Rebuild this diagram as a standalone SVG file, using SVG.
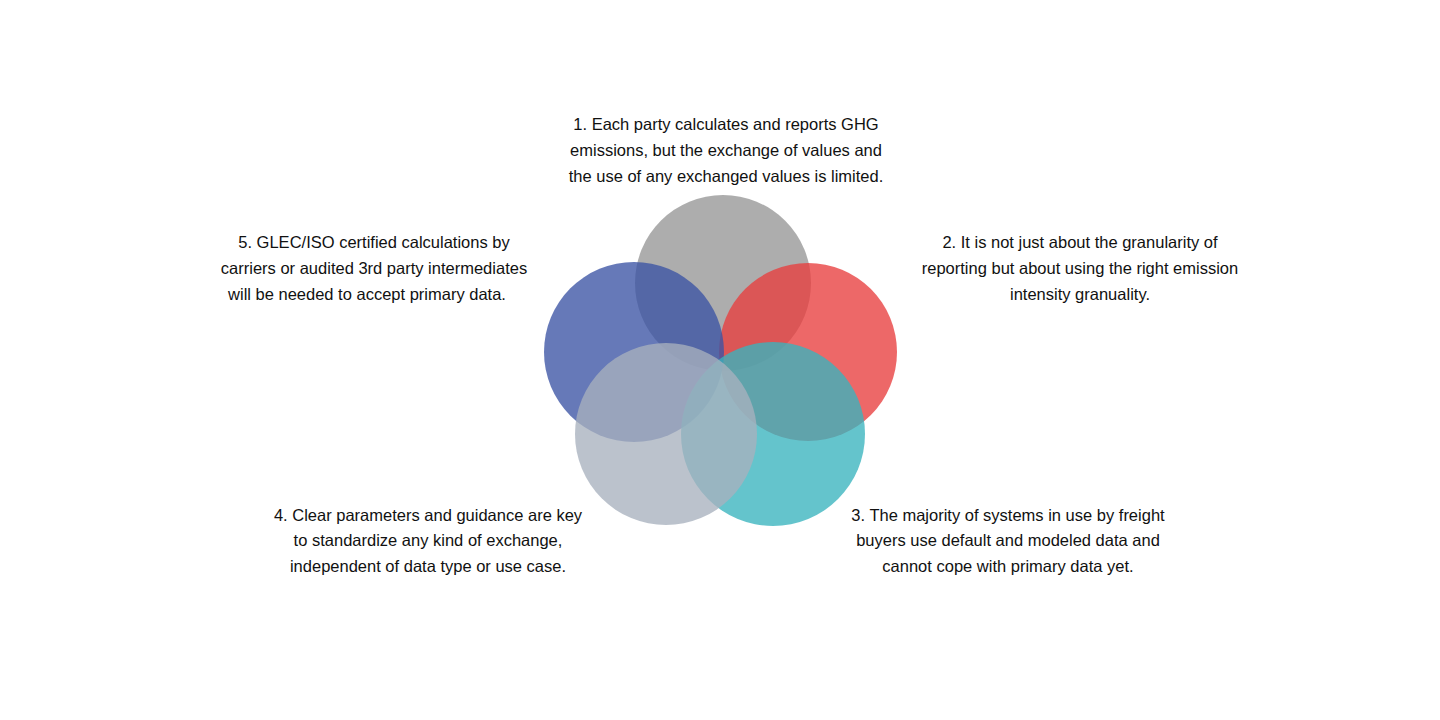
<svg xmlns="http://www.w3.org/2000/svg" width="1440" height="720" viewBox="0 0 1440 720">
<style>
text{font-family:"Liberation Sans",Arial,sans-serif;font-size:16.5px;fill:#111;text-anchor:middle}
circle{opacity:0.78}
</style>
<rect width="1440" height="720" fill="#fff"/>
<g id="connectors"></g>
<g id="node1"><circle cx="723" cy="283" r="88" fill="#969696"/>
<text x="726" y="130">1. Each party calculates and reports GHG</text>
<text x="726" y="156">emissions, but the exchange of values and</text>
<text x="726" y="182">the use of any exchanged values is limited.</text></g>
<g id="node2"><circle cx="808" cy="352" r="89" fill="#e83e3e"/>
<text x="1080" y="248">2. It is not just about the granularity of</text>
<text x="1080" y="274">reporting but about using the right emission</text>
<text x="1080" y="300">intensity granuality.</text></g>
<g id="node5"><circle cx="634" cy="352" r="90" fill="#3b53a4"/>
<text x="374" y="248">5. GLEC/ISO certified calculations by</text>
<text x="374" y="274">carriers or audited 3rd party intermediates</text>
<text x="367" y="300">will be needed to accept primary data.</text></g>
<g id="node3"><circle cx="773" cy="434" r="92" fill="#38b4be"/>
<text x="1008" y="521">3. The majority of systems in use by freight</text>
<text x="1008" y="546">buyers use default and modeled data and</text>
<text x="1008" y="572">cannot cope with primary data yet.</text></g>
<g id="node4"><circle cx="666" cy="434" r="91" fill="#a8b1be"/>
<text x="428" y="521">4. Clear parameters and guidance are key</text>
<text x="428" y="546">to standardize any kind of exchange,</text>
<text x="428" y="572">independent of data type or use case.</text></g>
</svg>
